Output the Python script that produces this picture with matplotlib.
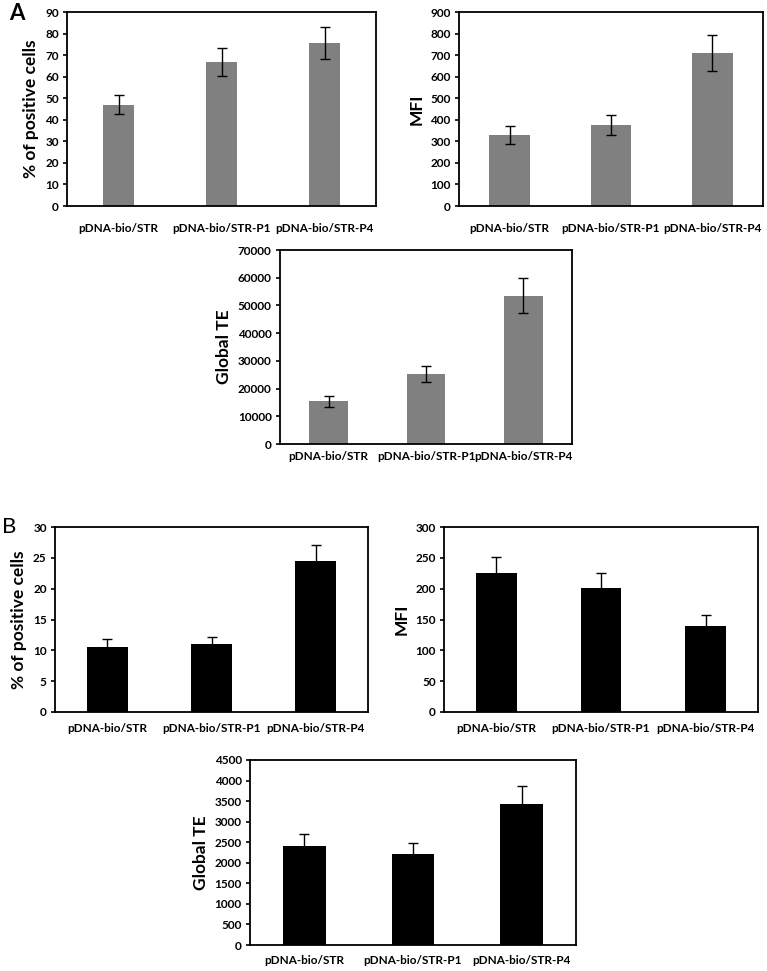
import matplotlib
matplotlib.use('Agg')
import matplotlib.pyplot as plt

plt.rcParams['font.family'] = ['Lato', 'DejaVu Sans']

categories = ['pDNA-bio/STR', 'pDNA-bio/STR-P1', 'pDNA-bio/STR-P4']

# panel A (grey)
a_pos_cells = [47, 67, 75.5]
a_pos_cells_err = [4.5, 6.5, 7.5]
a_mfi = [330, 375, 708]
a_mfi_err = [42, 47, 84]
a_te = [15500, 25200, 53500]
a_te_err = [2000, 3000, 6400]

# panel B (black)
b_pos_cells = [10.6, 11.1, 24.5]
b_pos_cells_err = [1.2, 1.0, 2.6]
b_mfi = [225, 201, 140]
b_mfi_err = [27, 24, 18]
b_te = [2400, 2220, 3440]
b_te_err = [310, 270, 430]

W, H = 767, 971
fig = plt.figure(figsize=(W / 100, H / 100), dpi=100)


def px_axes(x0, y0, x1, y1):
    return fig.add_axes([x0 / W, 1 - y1 / H, (x1 - x0) / W, (y1 - y0) / H])


def bar_panel(box, vals, errs, color, ylabel, ymax, step, width, xpad=10):
    ax = px_axes(*box)
    x = range(len(categories))
    ax.bar(x, vals, width=width, color=color, zorder=2)
    ax.errorbar(x, vals, yerr=errs, fmt='none', ecolor='black',
                elinewidth=1.0, capsize=3.5, capthick=1.0, zorder=3)
    ax.set_xlim(-0.5, len(categories) - 0.5)
    ax.set_ylim(0, ymax)
    ax.set_yticks(range(0, ymax + 1, step))
    ax.set_xticks(list(x))
    ax.set_xticklabels(categories, fontsize=8.5, fontweight='bold')
    ax.tick_params(axis='x', length=0, pad=xpad)
    ax.tick_params(axis='y', length=3, width=1.2, labelsize=8.5, pad=3)
    for lbl in ax.get_yticklabels():
        lbl.set_fontweight('bold')
    for s in ax.spines.values():
        s.set_linewidth(1.3)
        s.set_color('black')
    ax.set_ylabel(ylabel, fontsize=12.5, fontweight='bold', labelpad=4)
    return ax


grey = '#808080'
bar_panel((67, 12, 376, 206), a_pos_cells, a_pos_cells_err, grey,
          '% of positive cells', 90, 10, 0.3, xpad=12)
bar_panel((459, 12, 763, 206), a_mfi, a_mfi_err, grey, 'MFI', 900, 100, 0.4, xpad=12)
bar_panel((280, 250, 572, 444), a_te, a_te_err, grey, 'Global TE', 70000, 10000, 0.4,
          xpad=5)

bar_panel((55, 527, 368, 712), b_pos_cells, b_pos_cells_err, 'black',
          '% of positive cells', 30, 5, 0.39, xpad=8)
bar_panel((444, 527, 758, 712), b_mfi, b_mfi_err, 'black', 'MFI', 300, 50, 0.39, xpad=8)
bar_panel((250, 760, 576, 945), b_te, b_te_err, 'black', 'Global TE', 4500, 500, 0.39,
          xpad=7)

fig.text(9 / W, 1 - 13 / H, 'A', fontsize=16, fontweight='bold', va='center')
fig.text(2 / W, 1 - 527 / H, 'B', fontsize=16, va='center')

fig.savefig('out.png', dpi=100)
